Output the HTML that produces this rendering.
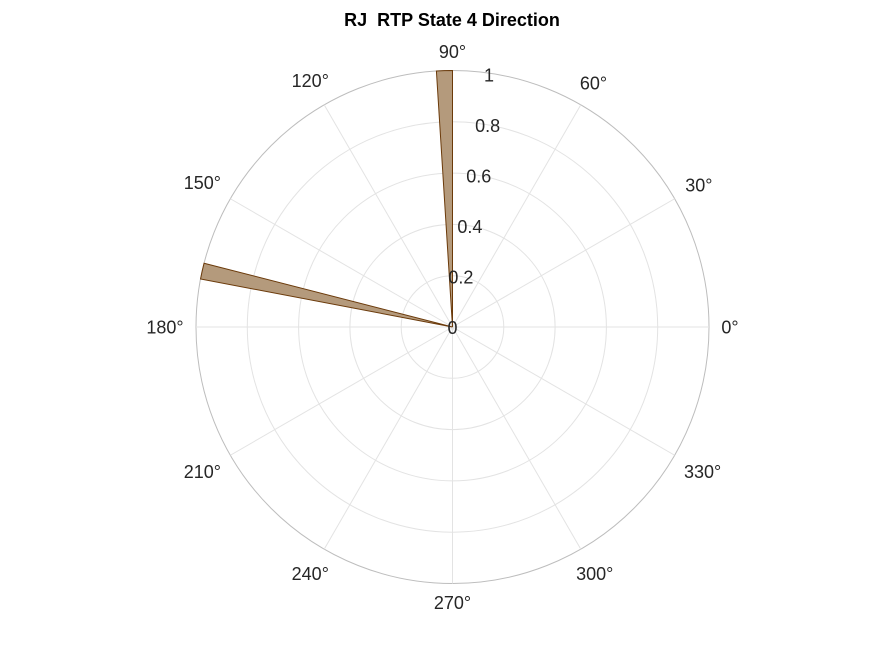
<!DOCTYPE html>
<html><head><meta charset="utf-8"><style>
body{margin:0;background:#fff;}
svg{display:block;font-family:"Liberation Sans",Arial,sans-serif;}
</style></head><body>
<svg id="chart" width="875" height="656" viewBox="0 0 875 656">
<rect width="875" height="656" fill="#fff"/>
<text x="452" y="26" text-anchor="middle" font-size="18" font-weight="bold" fill="#000" xml:space="preserve">RJ  RTP State 4 Direction</text>
<g id="grid"></g><g id="bars"></g><g id="labels"></g>
</svg>
<script>
const binStarts=[90,165.6];
const binWidths=[3.6,3.6];
const binValues=[1.0,1.0];
const rTicks=[0,0.2,0.4,0.6,0.8,1];
const thetaTicks=[0,30,60,90,120,150,180,210,240,270,300,330];
const cx=452.5,cy=327,R=256.5,rMax=1;
const ns="http://www.w3.org/2000/svg";
function rs(v){return v/rMax*R;}
function pt(a,r){const t=a*Math.PI/180;return [cx+r*Math.cos(t),cy-r*Math.sin(t)];}
function mk(tag,attrs,parent){const e=document.createElementNS(ns,tag);for(const k in attrs)e.setAttribute(k,attrs[k]);parent.appendChild(e);return e;}
const g=document.getElementById('grid'),b=document.getElementById('bars'),l=document.getElementById('labels');
rTicks.forEach((v,i)=>{if(v===0)return;const c=mk('circle',{cx:cx,cy:cy,r:rs(v),fill:'none',stroke:i===rTicks.length-1?'#bdbdbd':'#e3e3e3','stroke-width':1},g);

});
thetaTicks.forEach(a=>{const p=pt(a,R);const ln=mk('line',{x1:cx,y1:cy,x2:p[0],y2:p[1],stroke:'#e3e3e3','stroke-width':1},g);


const t0=a*Math.PI/180;const hw=(a>=100?20:(a>=10?15:10)),hh=8;
const dist=R+11+hw*Math.abs(Math.cos(t0))+hh*Math.abs(Math.sin(t0));
const q=pt(a,dist);const t=mk('text',{x:q[0],y:q[1]+6.5,'text-anchor':'middle','font-size':18,fill:'#262626'},l);t.textContent=a+'°';

});
rTicks.forEach(v=>{const p=pt(80,rs(v));const t=mk('text',{x:v===0?cx:p[0]-13,y:p[1]+7,'text-anchor':v===0?'middle':'start','font-size':18,fill:'#262626'},l);t.textContent=String(v);

});
binStarts.forEach((s,i)=>{const r=rs(binValues[i]);const a1=s,a2=s+binWidths[i];const p1=pt(a1,r),p2=pt(a2,r);
const d=`M${cx},${cy} L${p1[0]},${p1[1]} A${r},${r} 0 0 0 ${p2[0]},${p2[1]} Z`;
const p=mk('path',{d:d,fill:'#b49a7c',stroke:'#6b3a0a','stroke-width':1},b);

});
</script>
</body></html>
